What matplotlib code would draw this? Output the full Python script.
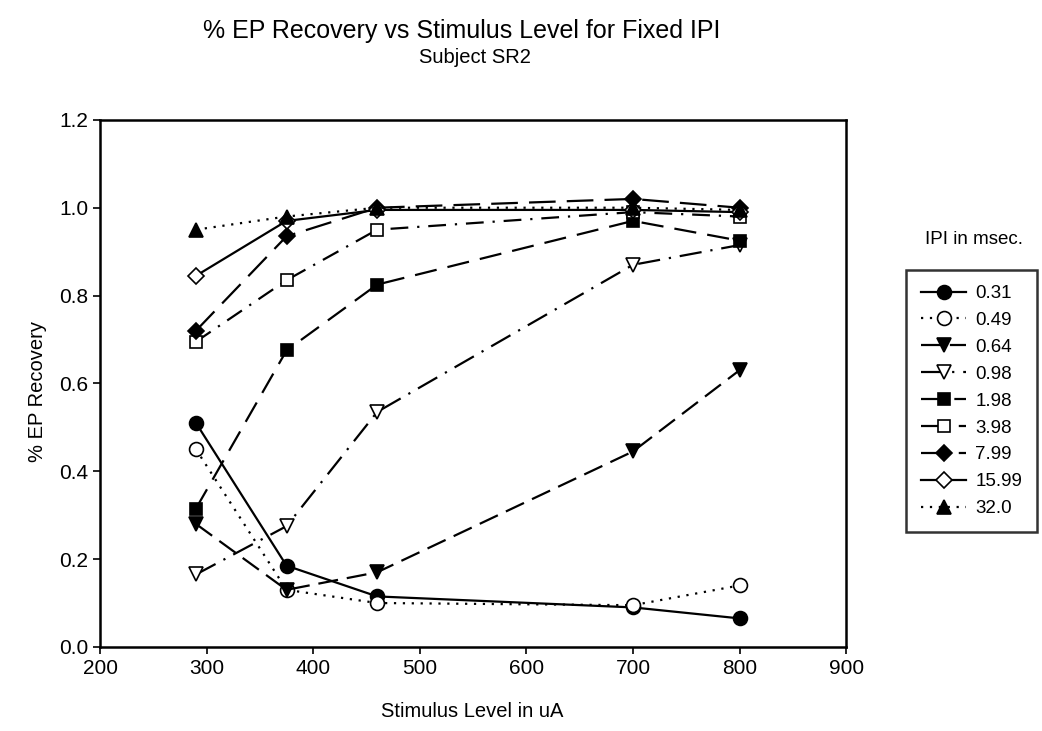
import matplotlib
matplotlib.use('Agg')
from matplotlib import pyplot as plt

plt.rcParams['font.family'] = ['Liberation Sans', 'DejaVu Sans']

stim_levels = [290, 375, 460, 700, 800]

ipi_labels = ['0.31', '0.49', '0.64', '0.98', '1.98', '3.98', '7.99', '15.99', '32.0']

rec_031 = [0.51, 0.185, 0.115, 0.09, 0.065]
rec_049 = [0.45, 0.13, 0.10, 0.095, 0.14]
rec_064 = [0.28, 0.13, 0.17, 0.445, 0.63]
rec_098 = [0.165, 0.275, 0.535, 0.87, 0.915]
rec_198 = [0.315, 0.675, 0.825, 0.97, 0.925]
rec_398 = [0.695, 0.835, 0.95, 0.99, 0.98]
rec_799 = [0.72, 0.935, 1.0, 1.02, 1.0]
rec_1599 = [0.845, 0.97, 0.995, 0.995, 0.99]
rec_320 = [0.95, 0.98, 1.0, 1.0, 0.995]

series = [rec_031, rec_049, rec_064, rec_098, rec_198, rec_398, rec_799, rec_1599, rec_320]

# marker, size, filled, linestyle
styles = [
    ('o', 10, True, '-'),
    ('o', 10, False, (0, (1, 3))),
    ('v', 9.5, True, (0, (9, 4))),
    ('v', 9.5, False, (0, (10, 4, 1, 4))),
    ('s', 8.5, True, (0, (10, 5))),
    ('s', 8.5, False, (0, (8, 4, 1, 4))),
    ('D', 8, True, (0, (12, 5))),
    ('D', 8, False, '-'),
    ('^', 9.5, True, (0, (1, 3))),
]

fig = plt.figure(figsize=(10.42, 7.31), dpi=100)
ax = fig.add_axes([0.096, 0.115, 0.716, 0.721])

for lab, vals, (m, ms, filled, ls) in zip(ipi_labels, series, styles):
    ax.plot(stim_levels, vals, color='black', linestyle=ls, linewidth=1.6,
            marker=m, markersize=ms,
            markerfacecolor='black' if filled else 'white',
            markeredgecolor='black', markeredgewidth=1.2, label=lab)

ax.set_xlim(200, 900)
ax.set_ylim(0, 1.2)
ax.set_xticks(range(200, 1000, 100))
ax.set_yticks([0.0, 0.2, 0.4, 0.6, 0.8, 1.0, 1.2])
ax.set_yticklabels(['0.0', '0.2', '0.4', '0.6', '0.8', '1.0', '1.2'])
ax.tick_params(direction='out', length=5, width=1.2, labelsize=15)
for sp in ax.spines.values():
    sp.set_linewidth(1.8)

fig.text(0.443, 0.958, '% EP Recovery vs Stimulus Level for Fixed IPI',
         ha='center', va='center', fontsize=18)
fig.text(0.456, 0.922, 'Subject SR2', ha='center', va='center', fontsize=14.5)
fig.text(0.036, 0.465, '% EP Recovery', rotation=90, ha='center', va='center', fontsize=14.5)
fig.text(0.453, 0.026, 'Stimulus Level in uA', ha='center', va='center', fontsize=14.5)
fig.text(0.935, 0.673, 'IPI in msec.', ha='center', va='center', fontsize=13.5)

leg = fig.legend(loc='upper left', bbox_to_anchor=(0.8695, 0.6306), fontsize=13.5,
                 frameon=True, fancybox=False, handlelength=2.4, handletextpad=0.5,
                 borderpad=0.8, labelspacing=0.52, borderaxespad=0)
leg.get_frame().set_edgecolor('black')
leg.get_frame().set_linewidth(1.8)

fig.savefig('out.png', dpi=100)
